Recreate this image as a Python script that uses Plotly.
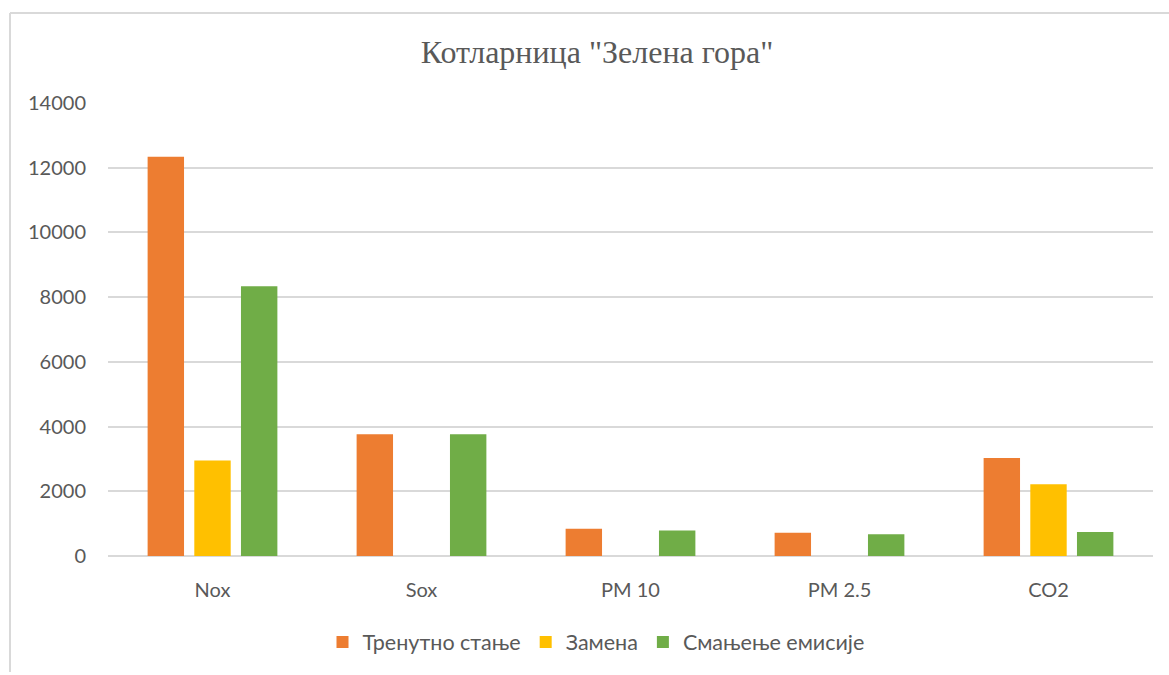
import plotly.graph_objects as go

categories = ["Nox", "Sox", "PM 10", "PM 2.5", "CO2"]
series_names = ["Тренутно стање", "Замена", "Смањење емисије"]
trenutno = [12340, 3760, 840, 715, 3030]
zamena = [2950, 0, 0, 0, 2220]
smanjenje = [8340, 3760, 790, 670, 745]
colors = ["#ED7D31", "#FFC000", "#70AD47"]
y_ticks = [0, 2000, 4000, 6000, 8000, 10000, 12000, 14000]
y_tick_labels = ["0", "2000", "4000", "6000", "8000", "10000", "12000", "14000"]

fig = go.Figure()
for name, vals, col in zip(series_names, [trenutno, zamena, smanjenje], colors):
    fig.add_trace(go.Bar(x=categories, y=vals, name=name, marker=dict(color=col, line=dict(width=0))))

W, H = 1169, 675
ml, mr, mt, mb = 108, 16, 103, 119
pw, ph = W - ml - mr, H - mt - mb

def px_x(p):
    return (p - ml) / pw

def px_y(p):
    return (H - mb - p) / ph

fig.update_layout(
    width=W, height=H,
    margin=dict(l=ml, r=mr, t=mt, b=mb),
    paper_bgcolor="white", plot_bgcolor="white",
    barmode="group", bargap=0.33, bargroupgap=0.22,
    title=dict(text='Котларница "Зелена гора"', x=px_x(597), xref="paper", xanchor="center",
               y=1 - 52 / H, yanchor="middle",
               font=dict(family="Liberation Serif", size=32, color="#595959")),
    font=dict(family="Lato", color="#595959", size=20),
    xaxis=dict(showgrid=False, showline=False, ticks="", tickfont=dict(size=20, color="#595959"),
               ticklabelstandoff=20),
    yaxis=dict(range=[0, 14000], tickvals=y_ticks, ticktext=y_tick_labels,
               showgrid=True, gridcolor="#D9D9D9", gridwidth=2,
               zeroline=True, zerolinecolor="#D9D9D9", zerolinewidth=2, showline=False,
               tickfont=dict(size=20, color="#595959"), ticklabelstandoff=21),
    legend=dict(orientation="h", x=px_x(596), xanchor="center", y=px_y(642), yanchor="middle",
                font=dict(size=21.5, color="#595959"), itemwidth=30, traceorder="normal"),
    shapes=[
        dict(type="line", xref="paper", yref="paper", x0=px_x(10), x1=px_x(10), y0=px_y(13), y1=px_y(672),
             line=dict(color="#D9D9D9", width=2)),
        dict(type="line", xref="paper", yref="paper", x0=px_x(10), x1=px_x(1175), y0=px_y(13), y1=px_y(13),
             line=dict(color="#D9D9D9", width=2)),
    ],
)

fig.write_html("out.html")
